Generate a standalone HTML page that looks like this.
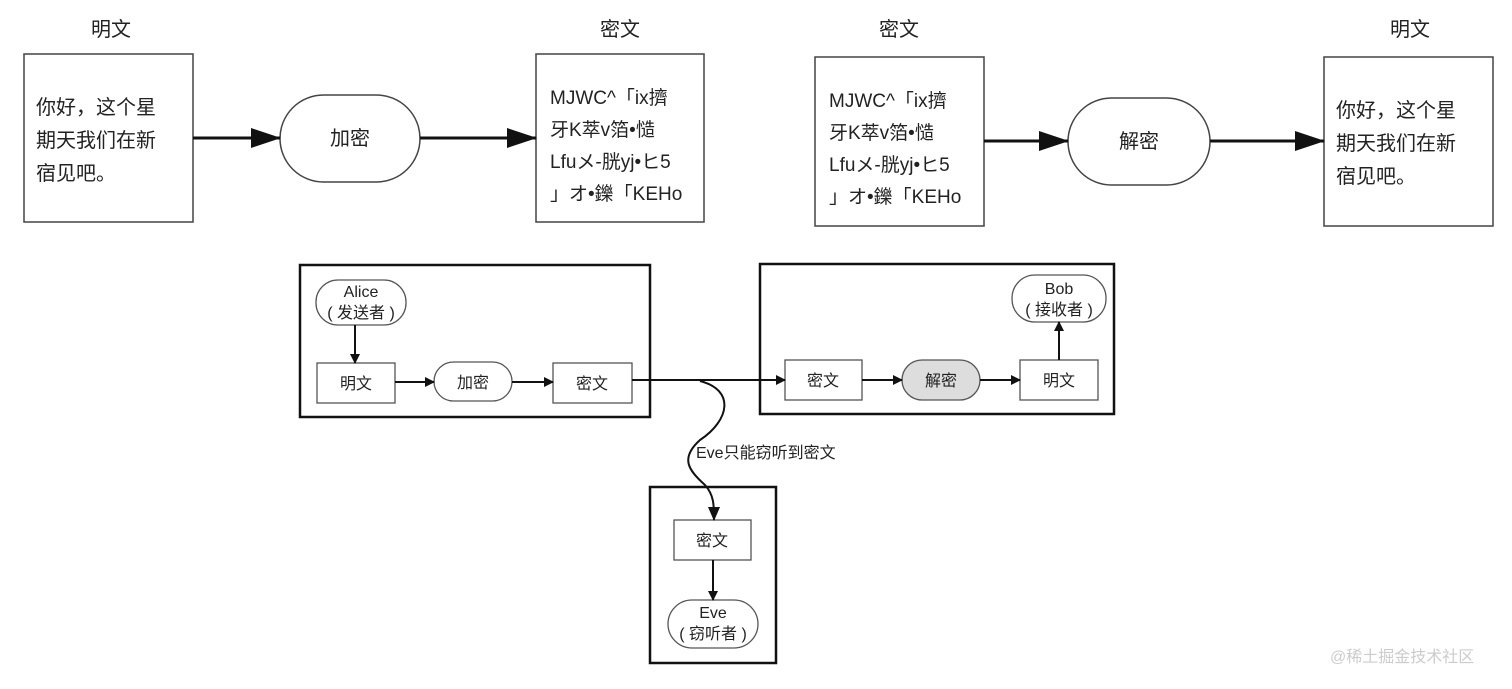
<!DOCTYPE html>
<html><head><meta charset="utf-8"><style>
body{margin:0;background:#fff;}
svg text{font-family:"Liberation Sans","Noto Sans CJK SC",sans-serif;fill:#222;}
</style></head><body>
<svg width="1512" height="684" viewBox="0 0 1512 684" xmlns="http://www.w3.org/2000/svg">
<defs>
<marker id="a" markerWidth="10" markerHeight="10" refX="9" refY="5" orient="auto" markerUnits="userSpaceOnUse"><path d="M0,0 L10,5 L0,10z" fill="#111"/></marker>
<marker id="b" markerWidth="30" markerHeight="20" refX="29" refY="10" orient="auto" markerUnits="userSpaceOnUse"><path d="M0,0 L30,10 L0,20z" fill="#111"/></marker>
<marker id="c" markerWidth="14" markerHeight="12" refX="13" refY="6" orient="auto" markerUnits="userSpaceOnUse"><path d="M0,0 L14,6 L0,12z" fill="#111"/></marker>
</defs>
<g font-size="20" text-anchor="middle">
<text x="111" y="36">明文</text><text x="620" y="36">密文</text>
<text x="899" y="36">密文</text><text x="1410" y="36">明文</text>
</g>
<g fill="#fff" stroke="#444" stroke-width="1.5">
<rect x="24" y="54" width="169" height="168"/>
<rect x="536" y="54" width="168" height="168"/>
<rect x="815" y="57" width="169" height="169"/>
<rect x="1324" y="57" width="169" height="169"/>
<rect x="280" y="95" width="140" height="87" rx="43.5"/>
<rect x="1068" y="98" width="142" height="87" rx="43.5"/>
</g>
<g stroke="#111" stroke-width="3">
<line x1="193" y1="138" x2="280" y2="138" marker-end="url(#b)"/>
<line x1="420" y1="138" x2="536" y2="138" marker-end="url(#b)"/>
<line x1="984" y1="141" x2="1068" y2="141" marker-end="url(#b)"/>
<line x1="1210" y1="141" x2="1324" y2="141" marker-end="url(#b)"/>
</g>
<g font-size="20">
<text x="36" y="114">你好，这个星</text><text x="36" y="147">期天我们在新</text><text x="36" y="180">宿见吧。</text>
<text x="1336" y="117">你好，这个星</text><text x="1336" y="150">期天我们在新</text><text x="1336" y="183">宿见吧。</text>
<g font-size="19">
<text x="550" y="104">MJWC^「ix擠</text><text x="550" y="136">牙K萃v箔•慥</text><text x="550" y="168">Lfuメ-胱yj•ヒ5</text><text x="550" y="200">」オ•鑠「KEHo</text>
<text x="829" y="107">MJWC^「ix擠</text><text x="829" y="139">牙K萃v箔•慥</text><text x="829" y="171">Lfuメ-胱yj•ヒ5</text><text x="829" y="203">」オ•鑠「KEHo</text>
</g>
<text x="350" y="145" text-anchor="middle">加密</text>
<text x="1139" y="148" text-anchor="middle">解密</text>
</g>
<g fill="none" stroke="#111" stroke-width="2.5">
<rect x="300" y="265" width="350" height="152"/>
<rect x="760" y="264" width="354" height="150"/>
<rect x="650" y="487" width="126" height="176"/>
</g>
<g fill="#fff" stroke="#555" stroke-width="1.3">
<rect x="316" y="280" width="90" height="45" rx="22"/>
<rect x="317" y="363" width="78" height="40"/>
<rect x="434" y="362" width="78" height="39" rx="19.5"/>
<rect x="553" y="363" width="79" height="40"/>
<rect x="785" y="360" width="77" height="40"/>
<rect x="902" y="360" width="78" height="40" rx="20" fill="#ddd"/>
<rect x="1020" y="360" width="78" height="40"/>
<rect x="1012" y="275" width="94" height="47" rx="23"/>
<rect x="674" y="520" width="77" height="40"/>
<rect x="668" y="600" width="90" height="48" rx="24"/>
</g>
<g stroke="#111" stroke-width="2" fill="none">
<line x1="355" y1="325" x2="355" y2="363" marker-end="url(#a)"/>
<line x1="395" y1="382" x2="434" y2="382" marker-end="url(#a)"/>
<line x1="512" y1="382" x2="553" y2="382" marker-end="url(#a)"/>
<line x1="632" y1="380" x2="785" y2="380" marker-end="url(#a)"/>
<line x1="862" y1="380" x2="902" y2="380" marker-end="url(#a)"/>
<line x1="980" y1="380" x2="1020" y2="380" marker-end="url(#a)"/>
<line x1="1059" y1="360" x2="1059" y2="322" marker-end="url(#a)"/>
<line x1="713" y1="560" x2="713" y2="600" marker-end="url(#a)"/>
<path d="M700,381 C735,390 730,420 700,440 C680,458 688,470 705,485 C714,495 714,505 714,520" marker-end="url(#c)"/>
</g>
<g font-size="16" text-anchor="middle">
<text x="361" y="297">Alice</text><text x="361" y="318">( 发送者 )</text>
<text x="356" y="389">明文</text><text x="473" y="388">加密</text><text x="592" y="389">密文</text>
<text x="823" y="386">密文</text><text x="941" y="386">解密</text><text x="1059" y="386">明文</text>
<text x="1059" y="294">Bob</text><text x="1059" y="315">( 接收者 )</text>
<text x="712" y="546">密文</text>
<text x="713" y="618">Eve</text><text x="713" y="639">( 窃听者 )</text>
</g>
<text x="696" y="458" font-size="16">Eve只能窃听到密文</text>
<text x="1330" y="662" font-size="16" style="fill:#ccc">@稀土掘金技术社区</text>
</svg>
</body></html>
